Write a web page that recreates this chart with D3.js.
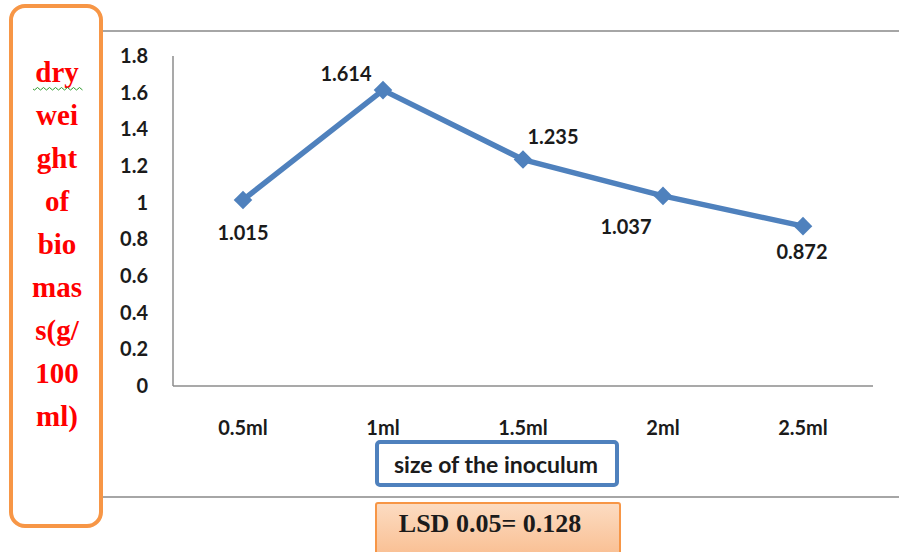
<!DOCTYPE html>
<html><head><meta charset="utf-8">
<script src="https://cdn.jsdelivr.net/npm/d3@7"></script>
<style>body{margin:0;background:#fff;}svg{display:block;}</style>
</head><body>
<svg id="c" width="899" height="552"></svg>
<script>
const categories = ["0.5ml","1ml","1.5ml","2ml","2.5ml"];
const values = [1.015, 1.614, 1.235, 1.037, 0.872];
const yTicks = [0,0.2,0.4,0.6,0.8,1,1.2,1.4,1.6,1.8];
const yTitleLines = ["dry","wei","ght","of","bio","mas","s(g/","100","ml)"];
const xTitle = "size of the inoculum";
const lsdText = "LSD 0.05= 0.128";
// label placement: [dx, baseline dy] relative to the point
const labelOffsets = [[0,40],[-37,-9],[30,-16],[-37,38],[-1,33]];

const svg = d3.select("#c");
const calibri = "Lato, 'Open Sans', sans-serif";
const serif = "'Liberation Serif', 'DejaVu Serif', serif";
const textCol = "#1b1b1b";

const defs = svg.append("defs");
const grad = defs.append("linearGradient").attr("id","lsdg").attr("x1",0).attr("y1",0).attr("x2",0).attr("y2",1);
grad.append("stop").attr("offset","0%").attr("stop-color","#fcdcc2");
grad.append("stop").attr("offset","100%").attr("stop-color","#f9bb8c");

// outer frame lines
svg.append("line").attr("x1",102).attr("x2",899).attr("y1",31).attr("y2",31).attr("stroke","#a6a6a6").attr("stroke-width",2);
svg.append("line").attr("x1",102).attr("x2",899).attr("y1",497).attr("y2",497).attr("stroke","#a6a6a6").attr("stroke-width",2);

// y title box
svg.append("rect").attr("x",11).attr("y",6).attr("width",90).attr("height",520).attr("rx",14)
  .attr("fill","#fff").attr("stroke","#f79646").attr("stroke-width",4);
const yt = svg.append("g");
yTitleLines.forEach((t,i)=>{
  yt.append("text").attr("x",57).attr("y",82+i*43).attr("text-anchor","middle")
    .attr("font-family",serif).attr("font-weight","bold").attr("font-size",29).attr("fill","#ff0000").text(t);
});
// green wavy underline under "dry"
yt.append("path").attr("d",d3.range(33,82,3).reduce((s,x,i)=>s+" L"+(x+1.5)+","+(i%2?87.5:90),"M33,89"))
  .attr("fill","none").attr("stroke","#2e9b2e").attr("stroke-width",1);

// scales
const x = d3.scaleBand().domain(categories).range([173,873]);
const y = d3.scaleLinear().domain([0,1.8]).range([386,56]);

// axes lines
svg.append("line").attr("x1",173).attr("x2",173).attr("y1",y(1.8)).attr("y2",y(0)).attr("stroke","#8c8c8c").attr("stroke-width",1.5);
svg.append("line").attr("x1",173).attr("x2",873).attr("y1",y(0)).attr("y2",y(0)).attr("stroke","#8c8c8c").attr("stroke-width",1.5);

// y tick labels
const yAxis = svg.append("g").attr("transform","translate(173,0)")
  .call(d3.axisLeft(y).tickValues(yTicks).tickFormat(d3.format("~g")).tickSize(0).tickPadding(25));
yAxis.select(".domain").remove();
yAxis.selectAll("text").attr("font-family",calibri).attr("font-weight","bold").attr("font-size",20).attr("fill",textCol);

// x tick labels
const xAxis = svg.append("g").attr("transform","translate(0,386)")
  .call(d3.axisBottom(x).tickSize(0).tickPadding(35));
xAxis.select(".domain").remove();
xAxis.selectAll("text").attr("font-family",calibri).attr("font-weight","bold").attr("font-size",20).attr("fill",textCol);

// line
const cx = d=>x(d)+x.bandwidth()/2;
const line = d3.line().x((d,i)=>cx(categories[i])).y(d=>y(d));
svg.append("path").datum(values).attr("d",line).attr("fill","none").attr("stroke","#4f81bd").attr("stroke-width",5.5).attr("stroke-linejoin","round");
svg.selectAll(".mk").data(values).enter().append("path")
  .attr("transform",(d,i)=>`translate(${cx(categories[i])},${y(d)})`)
  .attr("d",d3.symbol().type(d3.symbolDiamond2).size(220)).attr("fill","#4f81bd");
svg.selectAll(".lb").data(values).enter().append("text")
  .attr("x",(d,i)=>cx(categories[i])+labelOffsets[i][0])
  .attr("y",(d,i)=>y(d)+labelOffsets[i][1])
  .attr("text-anchor","middle").attr("font-family",calibri).attr("font-weight","bold").attr("font-size",20).attr("fill",textCol)
  .text(d=>d3.format(".3f")(d));

// x title box
svg.append("rect").attr("x",377).attr("y",442).attr("width",240).attr("height",43).attr("rx",3)
  .attr("fill","#fff").attr("stroke","#4f81bd").attr("stroke-width",4);
svg.append("text").attr("x",496).attr("y",473).attr("text-anchor","middle")
  .attr("font-family",calibri).attr("font-weight","bold").attr("font-size",23).attr("fill",textCol).text(xTitle);

// LSD box
svg.append("rect").attr("x",376).attr("y",503).attr("width",244).attr("height",60).attr("rx",2)
  .attr("fill","url(#lsdg)").attr("stroke","#f79646").attr("stroke-width",2);
svg.append("text").attr("x",490).attr("y",532).attr("text-anchor","middle")
  .attr("font-family",serif).attr("font-weight","bold").attr("font-size",26).attr("fill",textCol).text(lsdText);
</script>
</body></html>
